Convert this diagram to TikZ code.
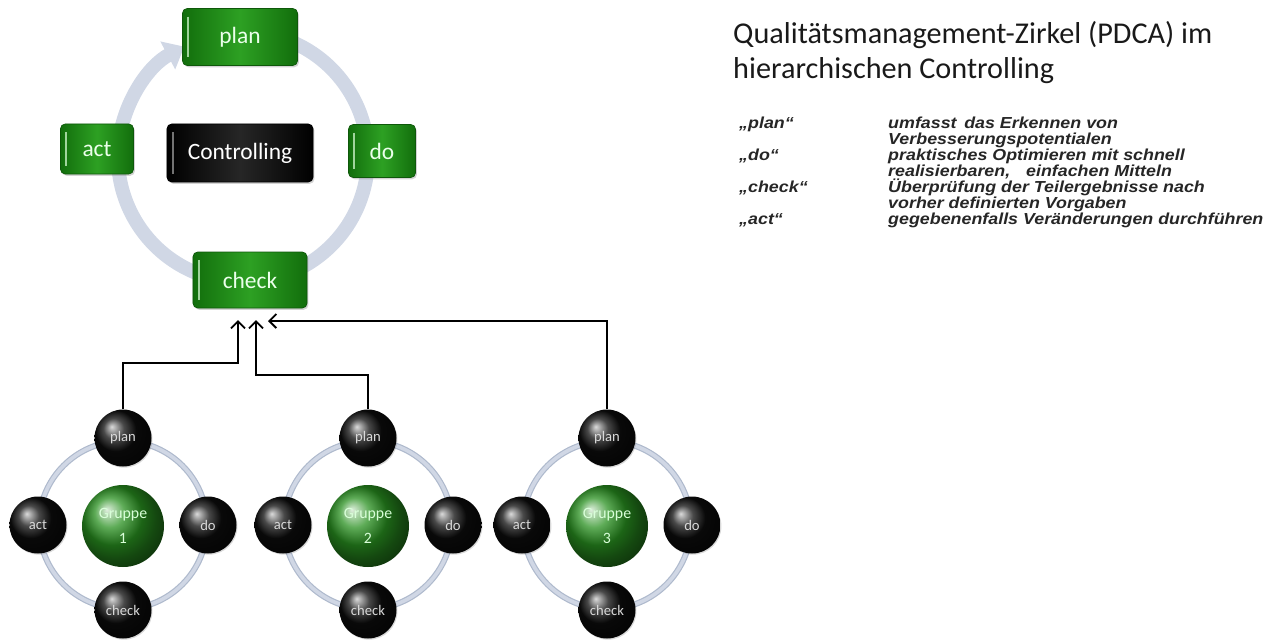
\documentclass[tikz,border=0pt]{standalone}
\usepackage{fontspec}
\setmainfont{Carlito}
\newfontfamily\arialf{Liberation Sans}[FakeStretch=1.12]
\usetikzlibrary{arrows.meta,shadows,calc}
\definecolor{gdark}{RGB}{18,110,12}
\definecolor{gmid}{RGB}{45,160,35}
\definecolor{ringc}{RGB}{208,215,229}
\definecolor{ringe}{RGB}{175,186,205}
\begin{document}
\begin{tikzpicture}[x=0.03cm,y=-0.03cm,
  gbox/.style={rectangle,rounded corners=4pt,draw=gdark!80!black,line width=0.6pt,
    left color=gdark,right color=gdark,middle color=gmid,
    drop shadow={shadow xshift=1.2pt,shadow yshift=-1.5pt,opacity=0.35},
    text=white!92!green,font=\fontsize{20}{24}\selectfont,inner sep=0pt,
    path picture={\draw[white!55!gmid,line width=1.6pt]
      ([xshift=5pt,yshift=-7pt]path picture bounding box.north west) --
      ([xshift=5pt,yshift=7pt]path picture bounding box.south west);}},
  bbox/.style={gbox,left color=black,right color=black,middle color=black!85,
    draw=black,text=white,
    path picture={\draw[black!55,line width=1.6pt]
      ([xshift=5pt,yshift=-7pt]path picture bounding box.north west) --
      ([xshift=5pt,yshift=7pt]path picture bounding box.south west);}},
  bcirc/.style={circle,minimum size=57*0.8536pt,inner sep=0pt,shading=ball,ball color=black!95,
    text=white!85!black,font=\fontsize{12.5}{14}\selectfont,
    drop shadow={shadow xshift=0.8pt,shadow yshift=-1pt,opacity=0.3}},
  gcirc/.style={circle,minimum size=82*0.8536pt,inner sep=0pt,shading=ball,ball color=gmid!90!black,
    text=white!85!green,font=\fontsize{13.5}{21}\selectfont,align=center},
  smallring/.style={draw=ringe,line width=6*0.8536pt,
    postaction={draw=ringc,line width=3.6*0.8536pt}},
  link/.style={draw=black,line width=1.6pt,-{Straight Barb[length=6pt,width=12pt,line width=1.6pt]}},
  deftxt/.style={anchor=base west,inner sep=0pt,font=\arialf\bfseries\itshape\fontsize{13.6}{15}\selectfont,text=black!85}]
\useasboundingbox (0,0) rectangle (1283,644);
% big ring
\coordinate (rc) at (243,157);
\draw[draw=ringc,line width=14*0.8536pt,-{Triangle[length=16pt,width=26pt]}]
  ($(rc)+(-82:125)$) arc[start angle=-82,end angle=242,radius=125];
% top nodes
\node[gbox,minimum width=115*0.8536pt,minimum height=57*0.8536pt] (plan) at (240,37) {plan};
\node[gbox,minimum width=73*0.8536pt,minimum height=50*0.8536pt] (act) at (97,149) {act};
\node[gbox,minimum width=67*0.8536pt,minimum height=53*0.8536pt] (do) at (382,151) {do};
\node[gbox,minimum width=114*0.8536pt,minimum height=56*0.8536pt] (check) at (250,280) {check};
\node[bbox,minimum width=146*0.8536pt,minimum height=58*0.8536pt] (ctrl) at (240,153) {Controlling};
% groups
\foreach \i/\cx in {1/123,2/368,3/607}{
  \draw[smallring] (\cx,525) circle[radius=84];
  \node[gcirc] (g\i) at (\cx,526) {Gruppe\\\i};
  \node[bcirc] (g\i plan) at (\cx,438) {plan};
  \node[bcirc] (g\i act) at (\cx-85,525) {act};
  \node[bcirc] (g\i do) at (\cx+85,525) {do};
  \node[bcirc] (g\i check) at (\cx,610) {check};
}
% connectors
\coordinate (e1) at (238,320);
\coordinate (e2) at (256,320);
\coordinate (e3) at (268,321);
\draw[link] (g1plan.north) |- (238,363) -- (e1);
\draw[link] (g2plan.north) |- (256,375) -- (e2);
\draw[link] (g3plan.north) |- (e3);
% title
\node[anchor=base west,inner sep=0pt,font=\fontsize{25.8}{30}\selectfont,text=black!90] (t1) at (733,43) {Qualitätsmanagement-Zirkel (PDCA) im};
\node[anchor=base west,inner sep=0pt,font=\fontsize{25.8}{30}\selectfont,text=black!90] (t2) at (733,78) {hierarchischen Controlling};
% definitions
\node[deftxt] (d1) at (739,128) {„plan“};
\node[deftxt] (d1a) at (888,128) {umfasst\, das Erkennen von};
\node[deftxt] (d1b) at (888,144) {Verbesserungspotentialen};
\node[deftxt] (d2) at (739,160) {„do“};
\node[deftxt] (d2a) at (888,160) {praktisches Optimieren mit schnell};
\node[deftxt] (d2b) at (888,176) {realisierbaren,\quad einfachen Mitteln};
\node[deftxt] (d3) at (739,192) {„check“};
\node[deftxt] (d3a) at (888,192) {Überprüfung der Teilergebnisse nach};
\node[deftxt] (d3b) at (888,208) {vorher definierten Vorgaben};
\node[deftxt] (d4) at (739,224) {„act“};
\node[deftxt] (d4a) at (888,224) {gegebenenfalls Veränderungen durchführen};
\end{tikzpicture}
\end{document}
